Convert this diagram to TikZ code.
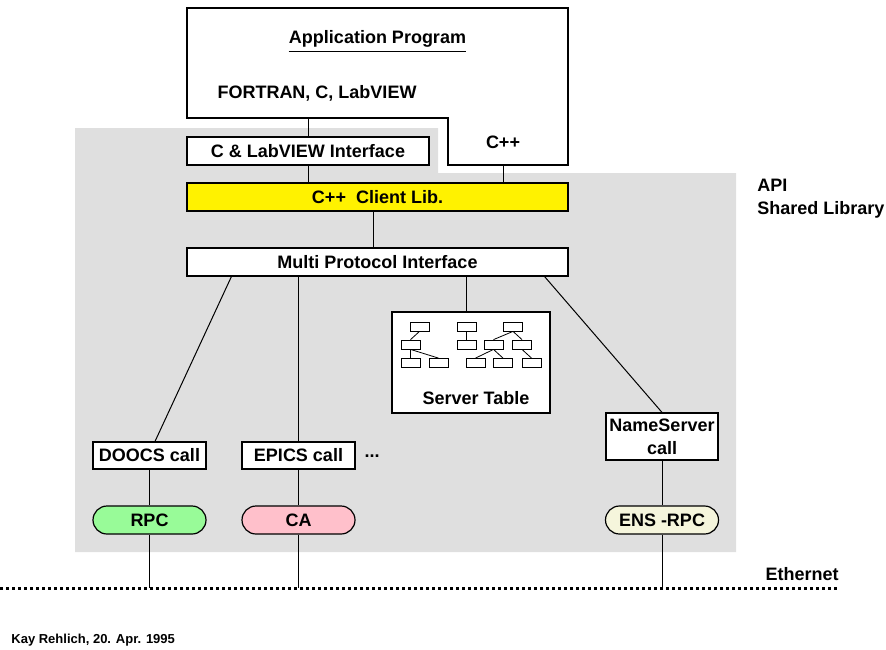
\documentclass[tikz,border=0pt]{standalone}
\usepackage{fontspec}
\setmainfont{Liberation Sans}
\usetikzlibrary{calc}
\definecolor{apigray}{RGB}{223,223,223}
\definecolor{rpcgreen}{RGB}{152,251,152}
\definecolor{capink}{RGB}{255,192,203}
\definecolor{ensbeige}{RGB}{245,245,220}

\begin{document}
\begin{tikzpicture}[x=0.5pt,y=-0.5pt, font=\bfseries\fontsize{9}{11.5}\selectfont]
%
% Skizze: Anwendung -> Interfaces -> Client Lib -> Protokolle -> Ethernet
%
\tikzstyle{iface} = [rectangle, draw=black, fill=white, line width=0.6pt, inner sep=0pt, align=center]
\tikzstyle{proto} = [rectangle, rounded corners=7pt, draw=black, line width=0.6pt, inner sep=0pt, minimum width=56.5pt, minimum height=14pt]
\tikzstyle{tiny} = [rectangle, draw=black, fill=white, line width=0.4pt, inner sep=0pt, minimum width=9.5pt, minimum height=4.5pt]
\tikzstyle{label} = [inner sep=0pt]
\tikzstyle{line} = [line width=0.5pt]
\tikzstyle{tinyline} = [line width=0.4pt]
\tikzstyle{ethernet} = [line width=1.5pt, dash pattern=on 1.65pt off 1.35pt]
\useasboundingbox (0,0) rectangle (886,649);
% Hintergrund (Shared Library)
\fill [apigray] (75,128) -- (438,128) -- (438,173) -- (736,173) -- (736,552) -- (75,552) -- cycle;
% Application Program
\draw [fill=white, line width=0.6pt] (187,8) -- (568,8) -- (568,165) -- (448,165) -- (448,118) -- (187,118) -- cycle;
\node (apptitle) [label] at (377.5,39) {Application Program};
\draw [line] ([yshift=-2pt]apptitle.south west) -- ([yshift=-2pt]apptitle.south east);
\node (applang) [label] at (317,93) {FORTRAN, C, LabVIEW};
\node (appcpp) [label] at (503,142) {C++};
\coordinate (appL) at (308,118);
\coordinate (appR) at (503,165);
% Nodes
\node (cli) [iface, minimum width=121pt, minimum height=14pt] at (308,151) {C \& LabVIEW Interface};
\node (cpplib) [iface, fill=yellow, minimum width=190.5pt, minimum height=14pt] at (377.5,197) {C++ \ Client Lib.};
\node (mpi) [iface, minimum width=190.5pt, minimum height=14pt] at (377.5,262) {Multi Protocol Interface};
\node (doocs) [iface, minimum width=56.5pt, minimum height=13.5pt] at (149.5,455.5) {DOOCS call};
\node (epics) [iface, minimum width=56.5pt, minimum height=13.5pt] at (298.5,455.5) {EPICS call};
\node (more) [label] at (372,456) {...};
\node (nscall) [iface, minimum width=56pt, minimum height=23.5pt] at (662,436.5) {NameServer\\call};
\node (srv) [iface, minimum width=79pt, minimum height=50.5pt] at (471,362.5) {};
\node (srvname) [label] at (476,398) {Server Table};
\node (rpc) [proto, fill=rpcgreen] at (149.5,520) {RPC};
\node (ca) [proto, fill=capink] at (298.5,520) {CA};
\node (ens) [proto, fill=ensbeige] at (662,520) {ENS -RPC};
% Server Table Baum
\node (ta1) [tiny] at (419.5,326.5) {};
\node (ta2) [tiny] at (410.5,344.5) {};
\node (ta3) [tiny] at (410.5,363) {};
\node (ta4) [tiny] at (438.5,363) {};
\node (tb1) [tiny] at (466.5,326.5) {};
\node (tb2) [tiny] at (466.5,344.5) {};
\node (tc1) [tiny] at (513,326.5) {};
\node (tc2) [tiny] at (493.5,344.5) {};
\node (tc3) [tiny] at (522,344.5) {};
\node (tc4) [tiny] at (475.5,363) {};
\node (tc5) [tiny] at (503,363) {};
\node (tc6) [tiny] at (531.5,363) {};
\draw [tinyline] (ta1.south) -- (ta2.north);
\draw [tinyline] (ta2.south) -- (ta3.north);
\draw [tinyline] (ta2.south) -- (ta4.north);
\draw [tinyline] (tb1.south) -- (tb2.north);
\draw [tinyline] (tc1.south) -- (tc2.north);
\draw [tinyline] (tc1.south) -- (tc3.north);
\draw [tinyline] (tc2.south) -- (tc4.north);
\draw [tinyline] (tc2.south) -- (tc5.north);
\draw [tinyline] (tc3.south) -- (tc6.north);
% Beschriftung
\node (api) [label, anchor=west, align=left] at (757,199) {API\\Shared Library};
\node (ethname) [label] at (802,574) {Ethernet};
\node (author) [label, anchor=west, font=\bfseries\fontsize{6.5}{8}\selectfont] at (11,640) {Kay Rehlich, 20. Apr. 1995};
% Verbindungen
\draw [line] (appL) -- (cli);
\draw [line] (cli.south) -- (cli.south |- cpplib.north);
\draw [line] (appR) -- (appR |- cpplib.north);
\draw [line] ($(cpplib.south)+(-4.5,0)$) -- ($(mpi.north)+(-4.5,0)$);
\draw [line] ($(mpi.south west)+(45,0)$) -- ($(doocs.north)+(5.5,0)$);
\draw [line] (epics.north |- mpi.south) -- (epics);
\draw [line] ($(mpi.south)+(88.5,0)$) -- ($(srv.north)+(-5,0)$);
\draw [line] ($(mpi.south east)+(-24,0)$) -- (nscall.north);
\draw [line] (doocs) -- (rpc);
\draw [line] (epics) -- (ca);
\draw [line] (nscall) -- (ens);
% Ethernet
\coordinate (ethL) at (0,588);
\coordinate (ethR) at (837,588);
\draw [ethernet] (ethL) -- (ethR);
\draw [line] (rpc) -- (rpc |- ethL);
\draw [line] (ca) -- (ca |- ethL);
\draw [line] (ens) -- (ens |- ethL);
\end{tikzpicture}
\end{document}
